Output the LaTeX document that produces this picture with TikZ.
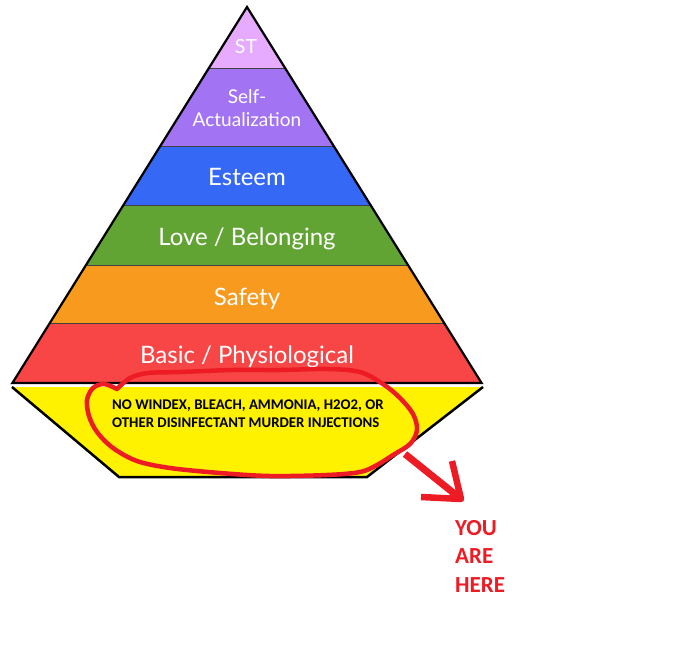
\documentclass[tikz,border=0pt]{standalone}
\usepackage{fontspec}
\setmainfont{Lato}
\newfontfamily\calib{Carlito}
\definecolor{cST}{HTML}{E6AAFF}
\definecolor{cSA}{HTML}{A273F2}
\definecolor{cES}{HTML}{3468F5}
\definecolor{cLB}{HTML}{62A434}
\definecolor{cSF}{HTML}{F79A1E}
\definecolor{cBP}{HTML}{F84646}
\definecolor{cYE}{HTML}{FFF200}
\definecolor{paint}{HTML}{ED1C24}
\begin{document}
\begin{tikzpicture}[x=1pt,y=-1pt,
  layer/.style={draw=black!80,line width=1pt},
  lbl/.style={text=white,inner sep=0pt},
  paintline/.style={draw=paint,line width=4.5pt,line cap=round,line join=round}]
\useasboundingbox[fill=white] (0,0) rectangle (678,662);
% layers
\fill[cST] (247,7) -- (285.1,68) -- (208.9,68) -- cycle;
\fill[cSA] (208.9,68) -- (285.1,68) -- (333.7,146) -- (160.3,146) -- cycle;
\fill[cES] (160.3,146) -- (333.7,146) -- (370.6,205) -- (123.4,205) -- cycle;
\fill[cLB] (123.4,205) -- (370.6,205) -- (408,265) -- (86,265) -- cycle;
\fill[cSF] (86,265) -- (408,265) -- (444.2,323) -- (49.8,323) -- cycle;
\fill[cBP] (49.8,323) -- (444.2,323) -- (481.6,383) -- (12.4,383) -- cycle;
\foreach \l/\r/\y in {208.9/285.1/68,160.3/333.7/146,123.4/370.6/205,86/408/265,49.8/444.2/323}
  \draw[black!75,line width=1pt] (\l,\y) -- (\r,\y);
\draw[black,line width=2.2pt,line join=miter] (247,7) -- (481.6,383) -- (12.4,383) -- cycle;
% yellow base
\fill[cYE] (12,387) -- (483,387) -- (367,477) -- (119,477) -- cycle;
\draw[black,line width=2.5pt] (12,387) -- (119,477) -- (367,477) -- (483,387);
% labels
\node[lbl,font=\fontsize{19.5}{19.5}\selectfont] (st) at (246,47) {ST};
\node[lbl,font=\fontsize{19}{23}\selectfont,align=center] (sa) at (247,108) {Self-\\Actualization};
\node[lbl,font=\fontsize{24}{24}\selectfont] (es) at (247,177) {Esteem};
\node[lbl,font=\fontsize{24}{24}\selectfont] (lb) at (247,239) {Love / Belonging};
\node[lbl,font=\fontsize{24}{24}\selectfont] (sf) at (247,299) {Safety};
\node[lbl,font=\fontsize{24}{24}\selectfont] (bp) at (247,357) {Basic / Physiological};
\node[inner sep=0pt,anchor=north west,align=left,font=\calib\bfseries\fontsize{14.8}{17.5}\selectfont] (msg) at (112,400)
  {NO WINDEX, BLEACH, AMMONIA, H2O2, OR\\OTHER DISINFECTANT MURDER INJECTIONS};
% freehand loop
\draw[paintline] plot[smooth,tension=0.55] coordinates {
  (117,389) (104,384) (93,388) (87,400) (89,416) (97,432) (113,448) (137,461)
  (170,468) (220,473) (270,476) (327,475) (360,472) (377,465) (393,455) (410,444)
  (417,430) (413,414) (400,398) (383,384) (360,372) (327,369) (280,370) (233,370)
  (180,372) (148,373) (130,378) (117,389)};
% arrow
\coordinate (a0) at (405,454);
\coordinate (a1) at (461,499);
\coordinate (h1) at (452,461);
\coordinate (h2) at (421,497);
\draw[paintline,line width=7pt,line cap=butt] (a0) -- (a1);
\draw[paintline,line width=6.5pt,line cap=butt] (h1) -- (a1) -- (h2);
\node[inner sep=0pt,anchor=north west,align=left,text=paint,font=\calib\bfseries\fontsize{23}{28.5}\selectfont] (here) at (455,520)
  {YOU\\ARE\\HERE};
\end{tikzpicture}
\end{document}
